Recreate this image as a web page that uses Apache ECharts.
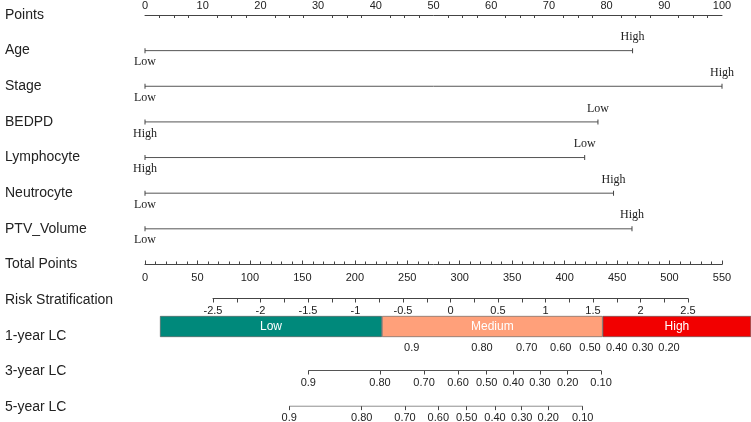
<!DOCTYPE html>
<html>
<head>
<meta charset="utf-8">
<script src="https://cdn.jsdelivr.net/npm/echarts@6/dist/echarts.min.js"></script>
<style>
  html, body { margin: 0; padding: 0; background: #fff; }
  #chart { width: 751px; height: 422px; }
</style>
</head>
<body>
<div id="chart"></div>
<script>
// row names down the left side
const rowNames = ['Points', 'Age', 'Stage', 'BEDPD', 'Lymphocyte', 'Neutrocyte', 'PTV_Volume',
  'Total Points', 'Risk Stratification', '1-year LC', '3-year LC', '5-year LC']

// predictor scales, in points (0-100)
const predictors = ['Age', 'Stage', 'BEDPD', 'Lymphocyte', 'Neutrocyte', 'PTV_Volume']
const predictorMax = [84.5, 100, 78.5, 76.2, 81.2, 84.4]
const leftLabels = ['Low', 'Low', 'High', 'High', 'Low', 'Low']
const rightLabels = ['High', 'High', 'Low', 'Low', 'High', 'High']

// risk groups on the total points scale
const riskBands = ['Low', 'Medium', 'High']
const riskBandEdges = [14.3, 225.9, 436.3, 577.7]
const riskColors = ['#00897b', '#ffa07a', '#f20000']

// survival probability ticks, placed on the total points scale
const lc1Labels = ['0.9', '0.80', '0.70', '0.60', '0.50', '0.40', '0.30', '0.20']
const lc1Points = [254.2, 321.2, 363.8, 396.3, 424.2, 449.6, 474.4, 499.5]
const lc3Labels = ['0.9', '0.80', '0.70', '0.60', '0.50', '0.40', '0.30', '0.20', '0.10']
const lc3Points = [155.7, 224.0, 266.0, 298.4, 325.7, 351.1, 376.5, 402.9, 434.7]
const lc5Labels = ['0.9', '0.80', '0.70', '0.60', '0.50', '0.40', '0.30', '0.20', '0.10']
const lc5Points = [137.5, 206.6, 247.8, 279.6, 306.6, 333.6, 359.1, 384.4, 417.2]

const sans = 'Liberation Sans, Arial, sans-serif'
const serif = 'Liberation Serif, Times New Roman, serif'
const axisColor = '#444'
const textColor = '#222'

const chart = echarts.init(document.getElementById('chart'))

const tickLabel = { fontFamily: sans, fontSize: 11, color: textColor }
const hiddenY = (gridIndex) => ({ type: 'value', gridIndex, show: false, min: -1, max: 1 })

// probability axis (no axis line, the line is drawn as a series)
function probAxis(gridIndex, points, labels, showTicks) {
  return {
    type: 'value', gridIndex, min: 0, max: 550, position: 'bottom',
    splitLine: { show: false },
    axisLine: { show: false },
    axisTick: { show: showTicks, length: 4, customValues: points, lineStyle: { color: axisColor } },
    axisLabel: {
      ...tickLabel, margin: showTicks ? 6 : 5, customValues: points,
      formatter: (v) => labels[points.indexOf(v)] || '',
    },
  }
}

const series = []

predictors.forEach((name, i) => {
  series.push({
    type: 'line', xAxisIndex: 0, yAxisIndex: 0,
    symbol: 'rect', symbolSize: [1, 5],
    itemStyle: { color: axisColor },
    lineStyle: { color: '#555', width: 1 },
    silent: true, animation: false,
    label: { show: true, fontFamily: serif, fontSize: 12, color: textColor },
    data: [
      { value: [0, name], label: { position: 'bottom', distance: 3, formatter: leftLabels[i] } },
      { value: [predictorMax[i], name], label: { position: 'top', distance: 5, formatter: rightLabels[i] } },
    ],
  })
})

// risk bars: transparent offset, then one segment per group
series.push({
  type: 'bar', xAxisIndex: 3, yAxisIndex: 3, stack: 'risk', clip: false,
  itemStyle: { color: 'transparent' }, silent: true, barWidth: '100%',
  data: [riskBandEdges[0]],
})
riskBands.forEach((band, i) => {
  series.push({
    type: 'bar', name: band, xAxisIndex: 3, yAxisIndex: 3, stack: 'risk', clip: false,
    barWidth: '100%',
    itemStyle: { color: riskColors[i], borderColor: '#555', borderWidth: 0.6 },
    label: { show: true, position: 'inside', formatter: band, color: '#fff', fontFamily: sans, fontSize: 12 },
    data: [riskBandEdges[i + 1] - riskBandEdges[i]],
  })
})

// lines for 3-year and 5-year axes
;[[lc3Points, 4], [lc5Points, 5]].forEach(([pts, g]) => {
  series.push({
    type: 'line', xAxisIndex: g, yAxisIndex: g, symbol: 'none', silent: true,
    lineStyle: { color: '#555', width: 1 },
    data: [[pts[0], 0], [pts[pts.length - 1], 0]],
  })
})

const option = {
  animation: false,
  grid: [
    { left: 145, right: 29, top: 14, bottom: 15 },
    { left: 145, right: 29, top: 264, height: 1 },
    { left: 213, right: 63, top: 298, height: 1 },
    { left: 145, right: 29, top: 316, height: 21 },
    { left: 145, right: 29, top: 370, height: 1 },
    { left: 145, right: 29, top: 406, height: 1 },
  ],
  xAxis: [
    {
      type: 'value', gridIndex: 0, position: 'top', min: 0, max: 100, interval: 10,
      splitLine: { show: false },
      axisLine: { show: true, onZero: false, lineStyle: { color: axisColor, width: 1 } },
      axisTick: { inside: true, length: 4, lineStyle: { color: axisColor } },
      minorTick: { show: true, splitNumber: 4, length: 3, lineStyle: { color: axisColor } },
      axisLabel: { ...tickLabel, margin: 4 },
    },
    {
      type: 'value', gridIndex: 1, position: 'bottom', min: 0, max: 550, interval: 50,
      splitLine: { show: false },
      axisLine: { lineStyle: { color: axisColor } },
      axisTick: { inside: true, length: 4, lineStyle: { color: axisColor } },
      minorTick: { show: true, splitNumber: 5, length: 3, lineStyle: { color: axisColor } },
      axisLabel: { ...tickLabel, margin: 7 },
    },
    {
      type: 'value', gridIndex: 2, position: 'bottom', min: -2.5, max: 2.5, interval: 0.25,
      splitLine: { show: false },
      axisLine: { lineStyle: { color: axisColor } },
      axisTick: { length: 4, lineStyle: { color: axisColor } },
      axisLabel: {
        ...tickLabel, margin: 6, showMinLabel: true, showMaxLabel: true,
        formatter: (v) => (Math.abs(v * 2 - Math.round(v * 2)) < 1e-6 ? String(v) : ''),
      },
    },
    probAxis(3, lc1Points, lc1Labels, false),
    probAxis(4, lc3Points, lc3Labels, true),
    probAxis(5, lc5Points, lc5Labels, true),
  ],
  yAxis: [
    {
      type: 'category', gridIndex: 0, data: rowNames, inverse: true, boundaryGap: false,
      axisLine: { show: false }, axisTick: { show: false }, splitLine: { show: false },
      axisLabel: { align: 'left', margin: 140, fontFamily: sans, fontSize: 14, color: textColor },
    },
    hiddenY(1),
    hiddenY(2),
    { type: 'category', gridIndex: 3, data: ['1-year LC'], show: false },
    hiddenY(4),
    hiddenY(5),
  ],
  series,
}

chart.setOption(option)
</script>
</body>
</html>
